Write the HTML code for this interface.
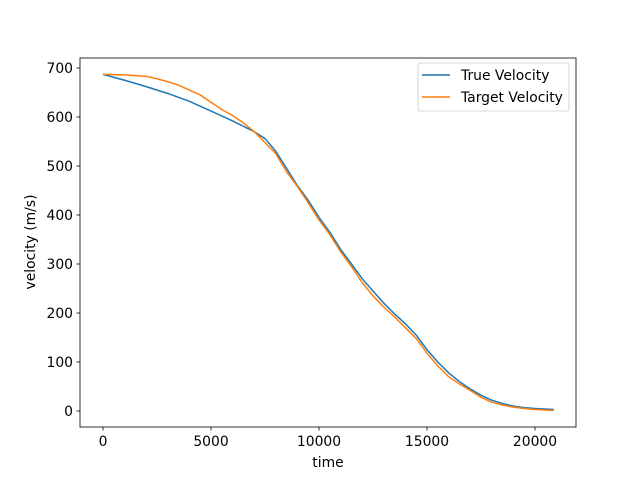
<!DOCTYPE html>
<html><head><meta charset="utf-8"><style>body{margin:0;background:#fff}svg{font-family:"DejaVu Sans","Liberation Sans",sans-serif}</style></head>
<body>
<svg id="chart" width="640" height="480" xmlns="http://www.w3.org/2000/svg"></svg>
<script>
const xTicks=[0,5000,10000,15000,20000];
const yTicks=[0,100,200,300,400,500,600,700];
const trueX=[0,1000,2000,3000,4000,5000,6000,7000,7500,8000,8500,9000,9500,10000,10500,11000,11500,12000,12500,13000,13500,14000,14500,15000,15500,16000,16500,17000,17500,18000,18500,19000,19500,20000,20875];
const trueV=[687,675,662,648,632,612,592,570,556,530,495,460,430,395,365,330,300,270,245,220,198,178,155,125,100,78,60,45,32,22,15,10,7,5,3];
const targetX=[0,1000,2000,2500,3000,3500,4000,4500,5000,5500,6000,6500,7000,7500,8000,8500,9000,9500,10000,10500,11000,11500,12000,12500,13000,13500,14000,14500,15000,15500,16000,16500,17000,17500,18000,18500,19000,19500,20000,20875];
const targetV=[687,686,683,678,672,665,655,645,630,615,603,588,570,548,525,488,458,425,390,360,325,295,262,235,212,192,170,148,118,92,70,55,42,28,18,12,8,5,3,1];
const svg=document.getElementById('chart');const NS='http://www.w3.org/2000/svg';
const L=80,R=576,T=58,B=427;
const sx=v=>103+v*0.0216;const sy=v=>411-v*0.49;
function mk(t,a,txt){const e=document.createElementNS(NS,t);for(const k in a)e.setAttribute(k,a[k]);if(txt!==undefined)e.textContent=txt;svg.appendChild(e);return e;}
function line(xs,ys,c,name){const p=mk('polyline',{points:xs.map((x,i)=>sx(x)+','+sy(ys[i])).join(' '),fill:'none',stroke:c,'stroke-width':1.5});

}
line(trueX,trueV,'#1f77b4','true-velocity-line');
line(targetX,targetV,'#ff7f0e','target-velocity-line');
const fr=mk('rect',{x:L,y:T,width:R-L,height:B-T,fill:'none',stroke:'#000','stroke-width':0.8});


xTicks.forEach(v=>{mk('line',{x1:sx(v),x2:sx(v),y1:B,y2:B+3.5,stroke:'#000','stroke-width':0.8});
const t=mk('text',{x:sx(v),y:B+19,'font-size':13.9,'text-anchor':'middle'},v);

});
yTicks.forEach(v=>{mk('line',{x1:L,x2:L-3.5,y1:sy(v),y2:sy(v),stroke:'#000','stroke-width':0.8});
const t=mk('text',{x:L-7,y:sy(v)+5,'font-size':13.9,'text-anchor':'end'},v);

});
</script>
<svg style="position:absolute;left:0;top:0" width="640" height="480">
<text x="328" y="467" font-size="13.9" text-anchor="middle" font-family="DejaVu Sans, Liberation Sans, sans-serif">time</text>
<text transform="translate(35,242) rotate(-90)" font-size="13.9" text-anchor="middle" font-family="DejaVu Sans, Liberation Sans, sans-serif">velocity (m/s)</text>
<g font-family="DejaVu Sans, Liberation Sans, sans-serif" font-size="13.9">
<rect x="418" y="63" width="151" height="48" rx="2" fill="#fff" fill-opacity="0.8" stroke="#ccc" stroke-width="0.8"/>
<line x1="422" y1="75" x2="450" y2="75" stroke="#1f77b4" stroke-width="1.5"/>
<text x="461" y="80">True Velocity</text>
<line x1="422" y1="97" x2="450" y2="97" stroke="#ff7f0e" stroke-width="1.5"/>
<text x="461" y="102">Target Velocity</text>
</g></svg>
</body></html>
